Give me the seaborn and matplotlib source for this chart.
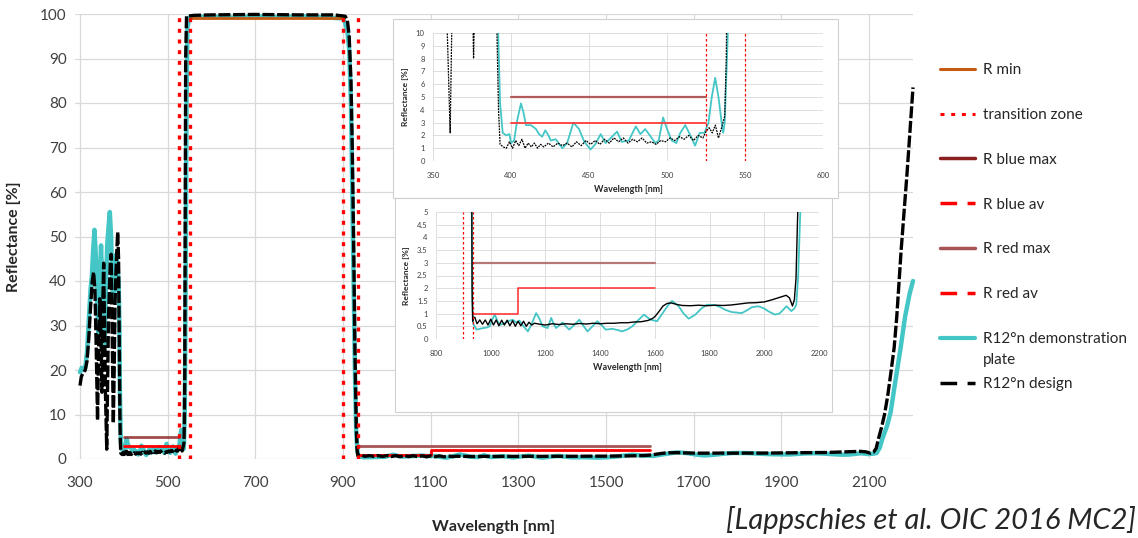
import matplotlib
matplotlib.use("Agg")
import matplotlib.pyplot as plt
import seaborn as sns
from matplotlib.lines import Line2D
from matplotlib.patches import Rectangle

# ---------------- data ----------------
design_wl = [300, 303, 307, 312, 316, 320, 324, 328, 331, 334, 337, 340, 342, 345, 348, 350, 352, 354, 356, 358,
             361, 363, 365, 367, 369, 371, 373, 376, 378, 380, 382, 384, 386, 388, 390, 391, 392, 393, 395, 397,
             399, 401, 403, 405, 407, 409, 411, 413, 415, 417, 419, 421, 424, 427, 430, 433, 436, 439, 442, 445,
             448, 451, 454, 457, 460, 463, 466, 469, 472, 475, 478, 481, 484, 487, 490, 493, 496, 499, 502, 505,
             508, 511, 514, 517, 520, 523, 525, 527, 529, 531, 533, 535, 537, 538, 539, 540, 541, 543, 560, 600,
             700, 800, 880, 905, 910, 914, 918, 921, 924, 927, 930, 932, 934, 936, 942, 950, 960, 970, 980, 990,
             1000, 1010, 1020, 1030, 1040, 1050, 1060, 1070, 1080, 1090, 1100, 1110, 1120, 1130, 1140, 1150, 1160,
             1180, 1200, 1225, 1250, 1275, 1300, 1325, 1350, 1375, 1400, 1425, 1450, 1475, 1500, 1525, 1550, 1575,
             1590, 1600, 1615, 1630, 1645, 1660, 1680, 1700, 1730, 1760, 1790, 1820, 1850, 1880, 1910, 1940, 1970,
             2000, 2030, 2060, 2080, 2092, 2103, 2110, 2116, 2121, 2128, 2135, 2142, 2149, 2157, 2163, 2168, 2173,
             2180, 2187, 2194, 2200]
design_r = [16.5, 18.5, 19.3, 20.0, 22, 27, 34, 40, 42, 38, 25, 8.7, 22, 36, 28, 15, 35, 44, 30, 15,
            2.2, 18, 32, 38, 44, 46, 30, 8, 20, 35, 42, 47, 51, 45, 20, 10, 4, 1.3, 1.1, 1.0,
            1.5, 1.0, 1.6, 1.2, 1.7, 1.0, 1.4, 1.1, 1.4, 1.0, 1.3, 1.1, 1.4, 1.1, 1.4, 1.2, 1.4, 1.1, 1.5, 1.2,
            1.6, 1.3, 1.6, 1.3, 1.7, 1.4, 1.8, 1.5, 1.8, 1.4, 1.7, 1.5, 1.8, 1.4, 1.5, 1.3, 1.6, 1.5, 1.8, 1.6,
            1.9, 1.7, 2.0, 1.6, 2.0, 1.8, 2.3, 2.6, 2.2, 2.8, 1.8, 2.6, 3.5, 8, 20, 60, 90, 99.5, 99.7, 99.8,
            99.9, 99.8, 99.8, 99.5, 98.5, 95, 85, 70, 50, 25, 8, 2, 0.7, 0.85, 0.85, 0.6, 0.75, 0.58, 0.75, 0.55,
            0.78, 0.55, 0.75, 0.52, 0.74, 0.55, 0.74, 0.52, 0.72, 0.5, 0.7, 0.52, 0.7, 0.5, 0.66, 0.55, 0.62,
            0.58, 0.55, 0.6, 0.57, 0.6, 0.58, 0.61, 0.59, 0.62, 0.6, 0.62, 0.62, 0.64, 0.64, 0.67, 0.68, 0.73,
            0.8, 0.88, 1.08, 1.3, 1.4, 1.42, 1.36, 1.32, 1.31, 1.33, 1.31, 1.33, 1.32, 1.34, 1.38, 1.42, 1.43,
            1.46, 1.55, 1.65, 1.72, 1.62, 1.3, 1.55, 2.4, 4.5, 7, 10, 14, 19, 25, 32, 39.5, 47,
            56, 65, 75, 83.5]

demo_wl = [300, 304, 308, 312, 316, 320, 324, 327, 330, 333, 336, 339, 342, 345, 348, 350, 353, 356, 359, 362,
           365, 368, 371, 374, 377, 380, 383, 386, 388, 390, 391, 392, 393, 394.7, 397, 399, 400, 402, 404, 406.4,
           408, 409.6, 412.8, 416, 418, 420, 422, 424, 425.5, 428.7, 431, 433, 436, 438, 440, 443.6, 447, 451,
           454, 457.5, 460.6, 464, 468, 471, 475.5, 480, 483, 486, 489, 492.5, 494.7, 497.5, 500, 503, 506,
           508.5, 511.7, 515, 518, 521, 524, 526.6, 528.7, 530.9, 533, 535, 536, 537, 539, 541, 543, 545, 550,
           600, 650, 700, 750, 800, 850, 900, 905, 910, 914, 918, 921, 924, 927, 930, 933, 936, 948, 960, 972,
           985, 996, 1005, 1015, 1025, 1033, 1048, 1063, 1081, 1093, 1105, 1120, 1136, 1150, 1166, 1178, 1190,
           1208, 1221, 1230, 1239, 1252, 1263, 1275, 1287, 1305, 1324, 1340, 1354, 1372, 1390, 1405, 1420, 1445,
           1465, 1481, 1500, 1518, 1540, 1560, 1584, 1608, 1633, 1650, 1663, 1687, 1705, 1724, 1748, 1770, 1790,
           1821, 1840, 1857, 1881, 1918, 1940, 1954, 1978, 2000, 2015, 2039, 2055, 2069, 2081, 2099, 2110, 2117,
           2124, 2130, 2141, 2149, 2159, 2171, 2182, 2192, 2200]
demo_r = [19.5, 20.5, 20, 20.5, 24, 31, 38, 41, 47, 51.5, 46, 35, 28, 40, 48, 42, 30, 25, 38, 48,
          52, 55.5, 50, 38, 36, 44, 46, 43, 40, 30, 15, 9, 4.5, 2.2, 2.0, 2.1, 1.4, 1.6, 3.2, 4.5,
          3.8, 2.8, 2.8, 2.5, 2.1, 1.9, 2.4, 2.0, 1.6, 1.7, 1.3, 1.0, 1.4, 2.2, 3.0, 2.5, 1.5, 0.9,
          1.3, 2.1, 1.4, 1.8, 2.3, 1.5, 1.6, 2.7, 2.1, 2.5, 2.0, 1.4, 1.6, 3.4, 2.5, 1.6, 1.4,
          2.2, 2.8, 2.0, 1.2, 2.2, 2.2, 3.0, 5.0, 6.5, 5.0, 3.0, 2.2, 3.0, 10, 40, 80, 97, 99.3,
          99.4, 99.2, 99.5, 99.3, 99.5, 99.3, 99.0, 98, 96, 92, 80, 60, 40, 20, 6, 1.5, 0.6, 0.37, 0.4, 0.43,
          0.45, 0.5, 0.75, 0.96, 0.7, 0.56, 0.6, 0.7, 0.76, 0.65, 0.72, 0.5, 0.3, 0.6, 1.02, 0.8, 0.5,
          0.43, 0.83, 0.6, 0.43, 0.55, 0.65, 0.5, 0.37, 0.55, 0.76, 0.5, 0.3, 0.5, 0.7, 0.55, 0.37, 0.4,
          0.35, 0.3, 0.38, 0.5, 0.75, 0.96, 0.76, 0.7, 1.09, 1.35, 1.5, 1.29, 1.0, 0.8, 0.96, 1.2, 1.35,
          1.33, 1.25, 1.15, 1.06, 1.02, 1.15, 1.25, 1.29, 1.2, 1.09, 0.96, 1.0, 1.15, 1.29, 1.1, 1.2, 1.35,
          2.5, 4.5, 7.5, 10.5, 17, 24.5, 32, 37, 40]

transition_wl = [525, 550, 900, 935]
rmin_wl, rmin_r = [550, 900], [99, 99]
blue_max_wl, blue_max_r = [400, 525], [5, 5]
blue_av_wl, blue_av_r = [400, 525], [3, 3]
red_max_wl, red_max_r = [935, 1600], [3, 3]
red_av_wl, red_av_r = [935, 1100, 1100, 1600], [1, 1, 2, 2]

main_xticks = [300, 500, 700, 900, 1100, 1300, 1500, 1700, 1900, 2100]
main_yticks = [0, 10, 20, 30, 40, 50, 60, 70, 80, 90, 100]
in1_xticks = [350, 400, 450, 500, 550, 600]
in1_yticks = [0, 1, 2, 3, 4, 5, 6, 7, 8, 9, 10]
in2_xticks = [800, 1000, 1200, 1400, 1600, 1800, 2000, 2200]
in2_yticks = [0, 0.5, 1, 1.5, 2, 2.5, 3, 3.5, 4, 4.5, 5]
in2_yticklabels = ["0", "0.5", "1", "1.5", "2", "2.5", "3", "3.5", "4", "4.5", "5"]

legend_labels = ["R min", "transition zone", "R blue max", "R blue av", "R red max",
                 "R red av", "R12°n demonstration", "R12°n design"]

# ---------------- style ----------------
sns.set_theme(style="white")
plt.rcParams["font.family"] = ["Lato", "DejaVu Sans"]

C_TURQ = "#45c6c6"
C_RMIN = "#c55a11"
C_BMAX = "#8b1e1e"
C_RMAX = "#a65454"
C_RED = "#ff0000"
C_TXT = "#404040"
C_GRID = "#d9d9d9"

W, H = 1138, 538
fig = plt.figure(figsize=(W / 100, H / 100), dpi=100)
fig.patch.set_facecolor("white")


def rect(x0, y0, x1, y1):
    return [x0 / W, 1 - y1 / H, (x1 - x0) / W, (y1 - y0) / H]


def line(ax, x, y, **kw):
    sns.lineplot(x=x, y=y, ax=ax, sort=False, estimator=None, legend=False, **kw)


# ---------------- main axes ----------------
ax = fig.add_axes(rect(75, 14, 913, 459))
ax.set_zorder(0)
ax.set_xlim(288.6, 2200)
ax.set_ylim(0, 100)
ax.set_xticks(main_xticks)
ax.set_yticks(main_yticks)
ax.grid(True, color=C_GRID, lw=0.9)
for s in ax.spines.values():
    s.set_visible(False)
ax.tick_params(length=0, labelsize=11, labelcolor=C_TXT)
ax.tick_params(axis="x", pad=12)
ax.tick_params(axis="y", pad=6)
ax.set_xlabel("Wavelength [nm]", fontsize=11.5, fontweight="bold", color="#262626", labelpad=22)
ax.set_ylabel("Reflectance [%]", fontsize=11.5, fontweight="bold", color="#262626", labelpad=14)

line(ax, demo_wl, demo_r, color=C_TURQ, lw=3.2, clip_on=False, zorder=2)
line(ax, rmin_wl, rmin_r, color=C_RMIN, lw=2.0, clip_on=False, zorder=2.5)
line(ax, blue_max_wl, blue_max_r, color=C_BMAX, lw=2.0, alpha=0.8, zorder=2.5)
line(ax, blue_av_wl, blue_av_r, color=C_RED, lw=2.0, zorder=2.5)
line(ax, red_max_wl, red_max_r, color=C_RMAX, lw=2.0, zorder=2.5)
line(ax, red_av_wl, red_av_r, color=C_RED, lw=2.0, zorder=2.5)
line(ax, design_wl, design_r, color="black", lw=2.4, linestyle=(0, (3.6, 0.8)), clip_on=False, zorder=3)
ax.vlines(transition_wl, 0, 100, colors=C_RED, lw=2.4, linestyles=[(0, (1.2, 2.0))], zorder=4)

# ---------------- inset boxes ----------------
for (x0, y0, x1, y1) in [(393, 19, 838, 198), (395, 198, 832, 412)]:
    fig.patches.append(Rectangle((x0 / W, 1 - y1 / H), (x1 - x0) / W, (y1 - y0) / H,
                                 transform=fig.transFigure, facecolor="white",
                                 edgecolor="#d0d0d0", lw=0.8, zorder=1))


def style_inset(a, xt, yt, xlim, ylim, ylabels=None):
    a.set_zorder(2)
    a.set_facecolor("white")
    a.set_xlim(*xlim)
    a.set_ylim(*ylim)
    a.set_xticks(xt)
    a.set_yticks(yt)
    if ylabels is not None:
        a.set_yticklabels(ylabels)
    a.grid(True, color=C_GRID, lw=0.6)
    for s in a.spines.values():
        s.set_visible(False)
    a.tick_params(length=0, labelsize=5.5, labelcolor=C_TXT)
    a.tick_params(axis="x", pad=8)
    a.tick_params(axis="y", pad=6)
    a.set_xlabel("Wavelength [nm]", fontsize=6.5, fontweight="bold", color="#262626", labelpad=4)
    a.set_ylabel("Reflectance [%]", fontsize=6, fontweight="bold", color="#262626", labelpad=5)


# inset 1 (blue band)
a1 = fig.add_axes(rect(433, 33, 823, 161))
style_inset(a1, in1_xticks, in1_yticks, (350, 600), (0, 10))
line(a1, demo_wl, demo_r, color=C_TURQ, lw=1.3, zorder=2)
line(a1, blue_max_wl, blue_max_r, color="#b05a5a", lw=1.6, zorder=2.5)
line(a1, blue_av_wl, blue_av_r, color="#ff3b3b", lw=1.3, zorder=2.5)
line(a1, design_wl, design_r, color="black", lw=0.9, linestyle=(0, (1.5, 0.8)), zorder=3)
a1.vlines(transition_wl, 0, 10, colors=C_RED, lw=0.9, linestyles=[(0, (2, 2))], zorder=4)

# inset 2 (red band)
a2 = fig.add_axes(rect(436, 212, 819, 339))
style_inset(a2, in2_xticks, in2_yticks, (800, 2200), (0, 5), in2_yticklabels)
line(a2, demo_wl, demo_r, color=C_TURQ, lw=1.3, zorder=2)
line(a2, red_max_wl, red_max_r, color="#b87878", lw=1.6, zorder=2.5)
line(a2, red_av_wl, red_av_r, color="#ff2a2a", lw=1.1, zorder=2.5)
line(a2, design_wl, design_r, color="black", lw=1.0, zorder=3)
a2.vlines(transition_wl, 0, 5, colors=C_RED, lw=0.9, linestyles=[(0, (2, 2))], zorder=4)

# ---------------- legend ----------------
handles = [
    Line2D([], [], color=C_RMIN, lw=2.2),
    Line2D([], [], color=C_RED, lw=2.2, linestyle=(0, (1.3, 2.2))),
    Line2D([], [], color=C_BMAX, lw=2.5),
    Line2D([], [], color=C_RED, lw=2.5, linestyle=(0, (4.8, 3.0))),
    Line2D([], [], color=C_RMAX, lw=2.5),
    Line2D([], [], color=C_RED, lw=2.5, linestyle=(0, (4.8, 3.0))),
    Line2D([], [], color=C_TURQ, lw=3.0),
    Line2D([], [], color="black", lw=2.5, linestyle=(0, (4.8, 3.0))),
]
fig.legend(handles, legend_labels, loc="upper left", bbox_to_anchor=(940 / W, 1 - 63 / H),
           frameon=False, fontsize=11, labelcolor="#262626", handlelength=2.3,
           handletextpad=0.5, labelspacing=2.02, borderpad=0, borderaxespad=0)
fig.text(983 / W, 1 - 360 / H, "plate", fontsize=11, color="#262626", va="center", ha="left")

# ---------------- citation ----------------
fig.text(1136 / W, 1 - 520 / H, "[Lappschies et al. OIC 2016 MC2]", fontsize=21,
         fontstyle="italic", color="#262626", ha="right", va="center")

fig.savefig("out.png", dpi=100, facecolor="white")
